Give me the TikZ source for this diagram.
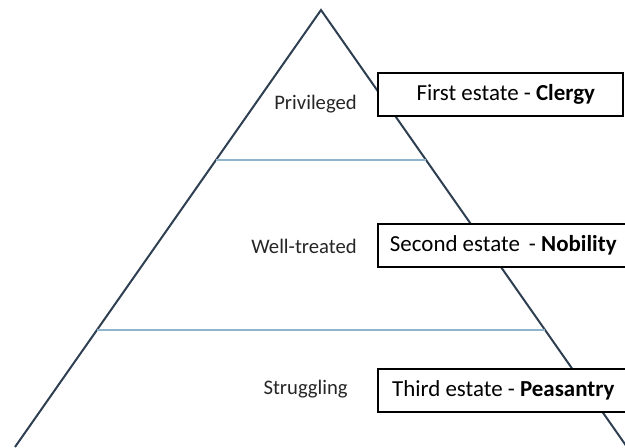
\documentclass[tikz,border=0pt]{standalone}
\usepackage{fontspec}
\setmainfont{Carlito}
\usepackage{tikz}
\usetikzlibrary{calc, positioning}
\definecolor{edgeblue}{HTML}{2E3F52}
\definecolor{lineblue}{HTML}{8FB4CC}
\tikzset{
  estate/.style={rectangle, draw=black, line width=1.4pt, fill=white,
                 anchor=west, minimum height=32.25pt, inner sep=0pt,
                 align=center, font=\fontsize{17.2}{20}\selectfont},
  rank/.style={anchor=east, inner sep=0pt, text=black!85,
               font=\fontsize{15.5}{18}\selectfont},
  side/.style={draw=edgeblue, line width=1.5pt, line join=miter},
  divide/.style={draw=lineblue, line width=1.1pt},
}

\begin{document}
\begin{tikzpicture}[x=0.75pt, y=-0.75pt]
  \useasboundingbox (0,0) rectangle (625,447);
  \clip (0,0) rectangle (625,447);

  % pyramid
  \coordinate (apex) at (321,10);
  \coordinate (bl) at (15,447);
  \coordinate (br) at (627,447);
  \draw[side] (bl) -- (apex) -- (br);

  % levels
  \draw[divide] ($(apex)!0.3432!(bl)$) -- ($(apex)!0.3432!(br)$);
  \draw[divide] ($(apex)!0.7323!(bl)$) -- ($(apex)!0.7323!(br)$);

  % left labels
  \node[rank] (priv)  at (357,104) {Privileged};
  \node[rank] (well)  at (357,246) {Well-treated};
  \node[rank] (strug) at (348,389) {Struggling};

  % estates
  \node[estate, minimum width=183.75pt] (first)  at (377,94.5)
    {\hspace{8pt}First estate - \textbf{Clergy}};
  \node[estate, minimum width=188pt] (second) at (377,245.5)
    {Second estate \,- \textbf{Nobility}};
  \node[estate, minimum width=188pt] (third)  at (377,390.5)
    {Third estate - \textbf{Peasantry}};
\end{tikzpicture}
\end{document}
